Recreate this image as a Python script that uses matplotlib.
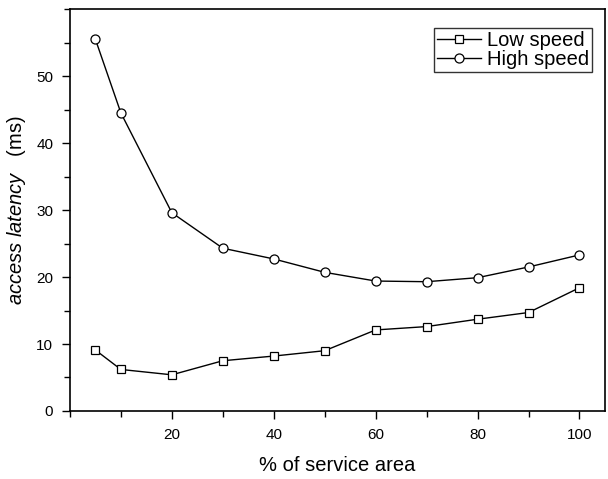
import matplotlib
matplotlib.use("Agg")
import matplotlib.pyplot as plt
from matplotlib.ticker import MultipleLocator

plt.rcParams['font.family'] = ['Liberation Sans', 'DejaVu Sans']
plt.rcParams['mathtext.fontset'] = 'custom'
plt.rcParams['mathtext.rm'] = 'Liberation Sans'
plt.rcParams['mathtext.it'] = 'Liberation Sans:italic'

# % of service area
area = [5, 10, 20, 30, 40, 50, 60, 70, 80, 90, 100]
# access latency (ms)
low_speed = [9.1, 6.2, 5.4, 7.5, 8.2, 9.0, 12.1, 12.6, 13.7, 14.7, 18.4]
high_speed = [55.5, 44.5, 29.6, 24.3, 22.7, 20.7, 19.4, 19.3, 19.9, 21.5, 23.3]

fig = plt.figure(figsize=(6.08, 4.79), dpi=100)
ax = fig.add_axes([0.115, 0.142, 0.88, 0.839])

ax.plot(area, low_speed, color='black', lw=1.0, marker='s', ms=6,
        mfc='white', mec='black', mew=0.9, label='Low speed')
ax.plot(area, high_speed, color='black', lw=1.0, marker='o', ms=6.5,
        mfc='white', mec='black', mew=0.9, label='High speed')

ax.set_xlim(0, 105)
ax.set_ylim(0, 60)
ax.xaxis.set_minor_locator(MultipleLocator(10))
ax.yaxis.set_minor_locator(MultipleLocator(5))
ax.set_xticks([20, 40, 60, 80, 100])
ax.set_yticks([0, 10, 20, 30, 40, 50])

ax.tick_params(which='major', direction='out', length=6, width=1, labelsize=11, pad=6)
ax.tick_params(which='minor', direction='out', length=4, width=1)
for s in ax.spines.values():
    s.set_linewidth(1.2)

ax.set_xlabel('% of service area', fontsize=14.5, labelpad=10)
ax.set_ylabel(r'$\mathit{access\ latency}$   (ms)', fontsize=14.5, labelpad=6)

leg = ax.legend(loc='upper right', bbox_to_anchor=(0.975, 0.952), fontsize=14.5,
                frameon=True, fancybox=False, edgecolor='black',
                handlelength=2.2, handletextpad=0.3, borderpad=0.12,
                labelspacing=0.02, borderaxespad=0.0)
leg.get_frame().set_linewidth(1.0)

fig.savefig('out.png', dpi=100)
